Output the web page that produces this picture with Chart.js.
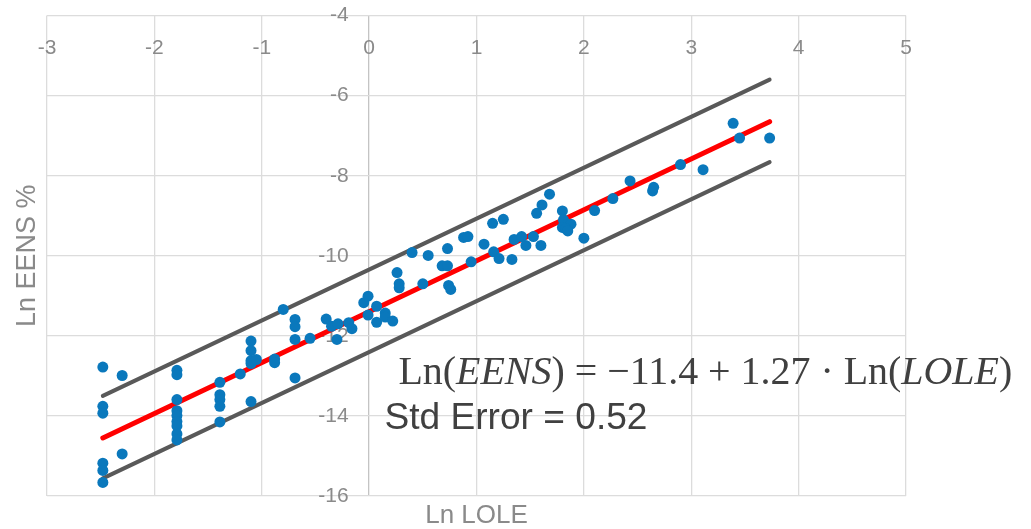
<!DOCTYPE html>
<html lang="en">
<head>
    <meta charset="UTF-8">
    <title>Ln EENS vs Ln LOLE</title>
    <style>
        html, body { margin: 0; padding: 0; background: #fff; }
        .chart-container { width: 1031px; height: 529px; }
    </style>
</head>
<body>
    <div class="chart-container">
        <canvas class="eens-chart" width="1031" height="529"></canvas>
    </div>

    <script src="https://cdn.jsdelivr.net/npm/chart.js@4.4.1/dist/chart.umd.min.js"></script>
    <script>
        // Datos
        const lnLole = [
            -2.48, -2.48, -2.48, -2.48, -2.48, -2.48, -2.30, -2.30,
            -1.79, -1.79, -1.79, -1.79, -1.79, -1.79, -1.79, -1.79, -1.79,
            -1.39, -1.39, -1.39, -1.39, -1.39, -1.20,
            -1.10, -1.10, -1.10, -1.10, -1.10, -1.05, -0.88, -0.88, -0.80,
            -0.69, -0.69, -0.69, -0.69, -0.55, -0.40, -0.35, -0.29, -0.30, -0.19, -0.16,
            -0.05, -0.01, -0.01, 0.07, 0.07, 0.15, 0.15, 0.22,
            0.26, 0.28, 0.28, 0.40, 0.50, 0.55, 0.68, 0.73, 0.73, 0.74, 0.76,
            0.88, 0.92, 0.95, 1.07, 1.15, 1.16, 1.21, 1.25, 1.33, 1.35, 1.42, 1.46,
            1.53, 1.56, 1.60, 1.61, 1.68, 1.80, 1.81, 1.85, 1.88, 1.80, 1.83, 1.85,
            2.00, 2.10, 2.27, 2.43, 2.64, 2.65, 2.90, 3.11, 3.39, 3.45, 3.73
        ];
        const lnEens = [
            -12.78, -13.76, -13.93, -15.18, -15.36, -15.66, -12.99, -14.95,
            -12.86, -12.97, -13.59, -13.87, -13.99, -14.14, -14.25, -14.45, -14.60,
            -13.16, -13.47, -13.59, -13.76, -14.15, -12.95,
            -12.13, -12.37, -12.62, -12.69, -13.64, -12.59, -12.58, -12.67, -11.34,
            -11.59, -11.77, -12.09, -13.05, -12.06, -11.58, -11.76, -11.70, -12.09, -11.67, -11.82,
            -11.17, -11.01, -11.48, -11.26, -11.66, -11.43, -11.53, -11.63,
            -10.42, -10.70, -10.80, -9.92, -10.70, -9.99, -10.25, -10.25, -9.82, -10.74, -10.84,
            -9.54, -9.52, -10.15, -9.71, -9.19, -9.90, -10.07, -9.09, -10.09, -9.59, -9.52, -9.74,
            -9.52, -8.94, -9.74, -8.73, -8.46, -8.88, -9.10, -9.21, -9.21, -9.29, -9.32, -9.38,
            -9.56, -8.87, -8.57, -8.13, -8.38, -8.29, -7.72, -7.85, -6.69, -7.06, -7.06
        ];

        // Recta de regresión y bandas (extremos)
        const fitX = [-2.48, 3.73];
        const fitY = [-14.55, -6.65];
        const upperY = [-13.5, -5.6];
        const lowerY = [-15.56, -7.66];

        const xTitle = 'Ln LOLE';
        const yTitle = 'Ln EENS %';
        const stdText = 'Std Error = 0.52';

        const toPoints = (xs, ys) => xs.map((x, i) => ({ x: x, y: ys[i] }));

        // Textos: títulos de ejes y ecuación
        const notes = {
            id: 'notes',
            afterDraw(chart) {
                const { ctx, chartArea: a, scales } = chart;
                ctx.save();
                ctx.fillStyle = '#8a8a8a';
                ctx.textAlign = 'center';
                ctx.textBaseline = 'middle';
                ctx.font = '26px "Liberation Sans"';
                ctx.fillText(xTitle, (a.left + a.right) / 2, a.bottom + 20);
                ctx.save();
                ctx.translate(28, (a.top + a.bottom) / 2);
                ctx.rotate(-Math.PI / 2);
                ctx.font = '27px "Liberation Sans"';
                ctx.fillText(yTitle, 0, 0);
                ctx.restore();

                // Ecuación
                const parts = [
                    ['Ln(', ''], ['EENS', 'italic '], [') = \u221211.4 + 1.27 \u00b7 Ln(', ''],
                    ['LOLE', 'italic '], [')', '']
                ];
                const family = '"Liberation Serif"';
                let w = 0;
                parts.forEach(p => { ctx.font = p[1] + '40px ' + family; w += ctx.measureText(p[0]).width; });
                const size = 40 * 614 / w;
                let px = scales.x.getPixelForValue(0.273);
                const py = scales.y.getPixelForValue(-13.2);
                ctx.fillStyle = '#404040';
                ctx.textAlign = 'left';
                ctx.textBaseline = 'alphabetic';
                parts.forEach(p => {
                    ctx.font = p[1] + size + 'px ' + family;
                    ctx.fillText(p[0], px, py);
                    px += ctx.measureText(p[0]).width;
                });

                ctx.font = '40px "Liberation Sans"';
                const s2 = 40 * 263 / ctx.measureText(stdText).width;
                ctx.font = s2 + 'px "Liberation Sans"';
                ctx.fillText(stdText, scales.x.getPixelForValue(0.143), scales.y.getPixelForValue(-14.32));
                ctx.restore();
            }
        };

        const ctx = document.querySelector('.eens-chart').getContext('2d');
        const chart = new Chart(ctx, {
            type: 'scatter',
            data: {
                datasets: [
                    {
                        label: 'Datos',
                        data: toPoints(lnLole, lnEens),
                        backgroundColor: '#0a78bc',
                        borderWidth: 0,
                        pointRadius: 5.5
                    },
                    {
                        label: 'Ajuste',
                        type: 'line',
                        data: toPoints(fitX, fitY),
                        borderColor: '#ff0000',
                        borderWidth: 5,
                        borderCapStyle: 'round',
                        pointRadius: 0,
                        fill: false
                    },
                    {
                        label: 'Superior',
                        type: 'line',
                        data: toPoints(fitX, upperY),
                        borderColor: '#595959',
                        borderWidth: 4,
                        borderCapStyle: 'round',
                        pointRadius: 0,
                        fill: false
                    },
                    {
                        label: 'Inferior',
                        type: 'line',
                        data: toPoints(fitX, lowerY),
                        borderColor: '#595959',
                        borderWidth: 4,
                        borderCapStyle: 'round',
                        pointRadius: 0,
                        fill: false
                    }
                ]
            },
            options: {
                responsive: false,
                animation: false,
                layout: { padding: { left: 47, right: 125, top: 1, bottom: 33 } },
                plugins: { legend: { display: false }, tooltip: { enabled: false } },
                scales: {
                    x: {
                        type: 'linear',
                        min: -3,
                        max: 5,
                        position: { y: -4 },
                        afterFit: s => { s.height = 0; },
                        ticks: {
                            stepSize: 1,
                            padding: 20,
                            color: '#8a8a8a',
                            font: { family: '"Liberation Sans"', size: 21 }
                        },
                        grid: {
                            color: c => (c.tick && c.tick.value === 0 ? '#c4c4c4' : '#dcdcdc'),
                            lineWidth: 1.3,
                            drawTicks: false
                        },
                        border: { display: false }
                    },
                    y: {
                        type: 'linear',
                        min: -16,
                        max: -4,
                        // etiquetas a la izquierda del eje vertical (x = 0)
                        position: { x: -0.19 },
                        afterFit: s => { s.width = 0; },
                        ticks: {
                            stepSize: 2,
                            color: '#8a8a8a',
                            font: { family: '"Liberation Sans"', size: 21 }
                        },
                        grid: { color: '#dcdcdc', lineWidth: 1.3, drawTicks: false },
                        border: { display: false }
                    }
                }
            },
            plugins: [notes]
        });
    </script>
</body>
</html>
